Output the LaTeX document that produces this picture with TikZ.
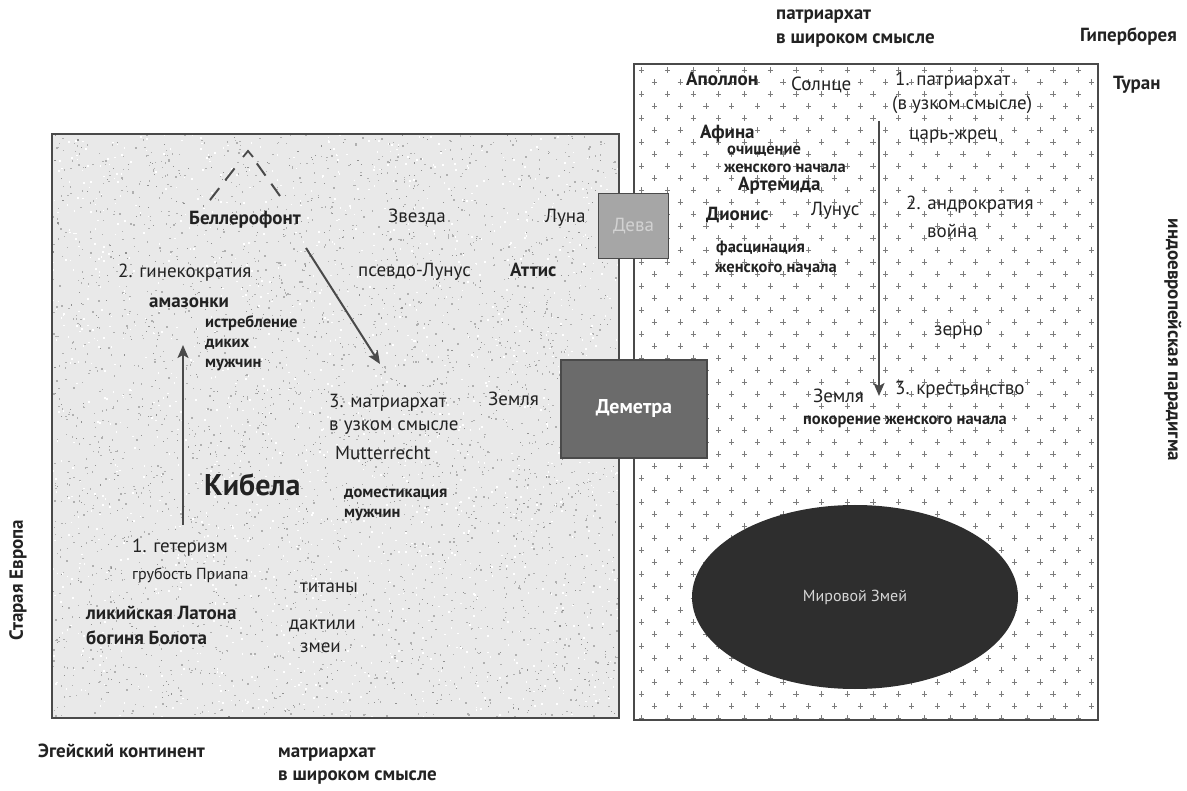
\documentclass[tikz,border=0pt]{standalone}
\usepackage{fontspec}
\setmainfont{PT Sans}
\usetikzlibrary{arrows.meta,shapes.geometric,calc}
\definecolor{ink}{HTML}{222222}
\definecolor{frame}{HTML}{4A4A4A}
\definecolor{grain}{HTML}{E9E9E9}
\definecolor{speck}{HTML}{B0B0B0}
\definecolor{speckdark}{HTML}{909090}
\definecolor{cross}{HTML}{7C7C7C}
\definecolor{devafill}{HTML}{A6A6A6}
\definecolor{devatext}{HTML}{D2D2D2}
\definecolor{demfill}{HTML}{6B6B6B}
\definecolor{serpent}{HTML}{2E2E2E}
\definecolor{serpenttext}{HTML}{D6D6D6}

\begin{document}
\begin{tikzpicture}[x=1pt,y=-1pt,
  lbl/.style={anchor=mid west, inner sep=0pt, text=ink, font=\fontsize{19}{23}\selectfont},
  lblb/.style={lbl, font=\fontsize{19}{23}\selectfont\bfseries},
  lbls/.style={lbl, font=\fontsize{16.5}{19}\selectfont\bfseries},
  lblo/.style={lbl, font=\fontsize{19}{23}\selectfont\bfseries},
  region/.style={draw=frame, line width=1.8pt},
  flow/.style={draw=frame, line width=2pt, -{Stealth[length=13pt,width=11pt,inset=3pt]}},
  hint/.style={draw=frame, line width=2pt, dash pattern=on 15pt off 10pt},
]
\useasboundingbox (0,0) rectangle (1187,791);

% ---------- regions ----------
\coordinate (oldNW) at (52,134);
\coordinate (oldSE) at (619,718);
\coordinate (indoNW) at (634,64);
\coordinate (indoSE) at (1098,720);

% Old Europe: grainy grey field
\fill[grain] (oldNW) rectangle (oldSE);
\begin{scope}
  \clip (oldNW) rectangle (oldSE);
  \pgfmathsetseed{11}
  \foreach \i in {1,...,2800}{
    \fill[speck] (52+567*rnd,134+584*rnd) rectangle ++(1.4,1.4);
  }
  \foreach \i in {1,...,700}{
    \fill[speckdark] (52+567*rnd,134+584*rnd) rectangle ++(1.1,1.1);
  }
  \foreach \i in {1,...,1400}{
    \fill[white] (52+567*rnd,134+584*rnd) rectangle ++(1.6,1.6);
  }
\end{scope}
\draw[region] (oldNW) rectangle (oldSE);

% Indo-European field: white with a staggered grid of small crosses
\fill[white] (indoNW) rectangle (indoSE);
\begin{scope}
  \clip (indoNW) rectangle (indoSE);
  \foreach \r in {0,...,55}{
    \foreach \c in {0,...,18}{
      \pgfmathsetmacro\px{641.7+\c*25.7+mod(\r,2)*12.85}
      \pgfmathsetmacro\py{70+\r*12}
      \draw[cross, line width=0.8pt] (\px-2.6,\py) -- (\px+2.6,\py) (\px,\py-2.6) -- (\px,\py+2.6);
    }
  }
\end{scope}
\draw[region] (indoNW) rectangle (indoSE);

% ---------- bridge boxes ----------
\node[draw=frame, line width=1.8pt, fill=devafill, minimum width=70pt, minimum height=65pt,
      text=devatext, font=\fontsize{19}{23}\selectfont] (deva) at (633.5,226) {Дева};
\node[draw=frame, line width=1.8pt, fill=demfill, minimum width=146pt, minimum height=98pt,
      text=white, font=\fontsize{20}{24}\selectfont\bfseries] (demeter) at (634,409) {Деметра};

% ---------- world serpent ----------
\node[ellipse, fill=serpent, minimum width=326pt, minimum height=184pt, inner sep=0pt,
      text=serpenttext, font=\fontsize{16}{19}\selectfont] (serpent) at (855,597) {Мировой Змей};

% ---------- Old Europe labels ----------
\node[lblb] (bell) at (189,222) {Беллерофонт};
\node[lbl] (star) at (388,220) {Звезда};
\node[lbl] (moon) at (545,220) {Луна};
\node[lbl] (gyn) at (118,275) {2. гинекократия};
\node[lbl] (pseudo) at (358,274) {псевдо-Лунус};
\node[lblb] (attis) at (510,274) {Аттис};
\node[lblo] (amaz) at (149,305) {амазонки};
\node[lbls] (ext1) at (205,325) {истребление};
\node[lbls] (ext2) at (205,345) {диких};
\node[lbls] (ext3) at (205,365) {мужчин};
\node[lbl] (matr) at (329,405) {3. матриархат};
\node[lbl] (earthL) at (488,403) {Земля};
\node[lbl] (narrow) at (329,428) {в узком смысле};
\node[lbl] (mutter) at (335,457) {Mutterrecht};
\node[lbl, font=\fontsize{30}{34}\selectfont\bfseries] (kybele) at (204,493) {Кибела};
\node[lbls] (dom1) at (344,495) {доместикация};
\node[lbls] (dom2) at (344,515) {мужчин};
\node[lbl] (heter) at (132,550) {1. гетеризм};
\node[lbl, font=\fontsize{16}{19}\selectfont] (priap) at (132,577) {грубость Приапа};
\node[lbl] (titans) at (300,590) {титаны};
\node[lblb] (latona) at (86,617) {ликийская Латона};
\node[lbl] (dact) at (289,627) {дактили};
\node[lblb] (swamp) at (86,642) {богиня Болота};
\node[lbl] (snakes) at (300,650) {змеи};

% ---------- Indo-European labels ----------
\node[lblb] (apollo) at (686,83) {Аполлон};
\node[lbl] (sun) at (791,88) {Солнце};
\node[lbl] (patr1) at (895,83) {1. патриархат};
\node[lbl] (patr1b) at (892,107) {(в узком смысле)};
\node[lblb] (athena) at (700,136) {Афина};
\node[lbls] (purif1) at (727,152) {очищение};
\node[lbls] (purif2) at (724,170) {женского начала};
\node[lblb] (artemis) at (738,188) {Артемида};
\node[lblb] (dionysus) at (706,218) {Дионис};
\node[lbl] (lunus) at (811,213) {Лунус};
\node[lbls] (fasc1) at (716,250) {фасцинация};
\node[lbls] (fasc2) at (715,270) {женского начала};
\node[lbl] (king) at (909,137) {царь-жрец};
\node[lbl] (andro) at (906,207) {2. андрократия};
\node[lbl] (war) at (927,235) {война};
\node[lbl] (grainlbl) at (934,333) {зерно};
\node[lbl] (peasant) at (895,392) {3. крестьянство};
\node[lbl] (earthR) at (813,400) {Земля};
\node[lbls] (subj) at (803,422) {покорение женского начала};

% ---------- outer labels ----------
\node[lblo] (patrW1) at (776,17) {патриархат};
\node[lblo] (patrW2) at (776,41) {в широком смысле};
\node[lblo] (hyper) at (1080,39) {Гиперборея};
\node[lblo] (turan) at (1113,87) {Туран};
\node[lblo, anchor=center, rotate=-90] (indo) at (1173,340) {индоевропейская парадигма};
\node[lblo, anchor=center, rotate=90] (oldeu) at (18,580) {Старая Европа};
\node[lblo] (aegean) at (38,755) {Эгейский континент};
\node[lblo] (matrW1) at (278,755) {матриархат};
\node[lblo] (matrW2) at (278,778) {в широком смысле};

% ---------- connectors ----------
\coordinate (rise0) at (183,525);
\coordinate (rise1) at (183,345);
\draw[flow] (rise0) -- (rise1);

\coordinate (fall0) at (306,248);
\coordinate (fall1) at (380,364);
\draw[flow] (fall0) -- (fall1);

\coordinate (desc0) at (879,121);
\coordinate (desc1) at (879,396);
\draw[flow] (desc0) -- (desc1);

% dashed ascent above Bellerophon
\coordinate (askL) at (210,200);
\coordinate (askTop) at (248,151);
\coordinate (askR) at (280,196);
\draw[hint] (askL) -- ($(askL)!0.78!(askTop)$);
\draw[hint] (askR) -- ($(askR)!0.8!(askTop)$);
\draw[draw=frame, line width=1.8pt] ($(askTop)+(-5,6)$) -- (askTop) -- ($(askTop)+(5,6)$);
\end{tikzpicture}
\end{document}
